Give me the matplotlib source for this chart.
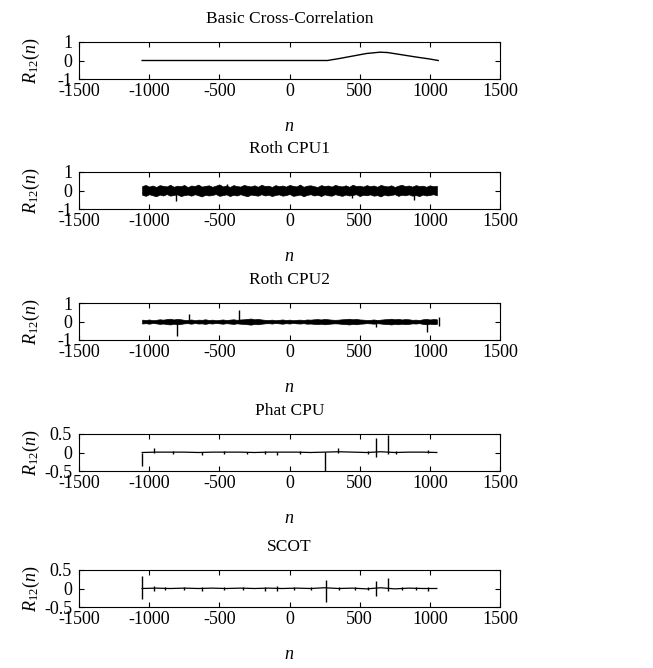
import matplotlib
matplotlib.use("Agg")
import matplotlib.pyplot as plt
import numpy as np

plt.rcParams['font.family'] = ['Liberation Serif', 'DejaVu Serif']
plt.rcParams['mathtext.fontset'] = 'custom'
plt.rcParams['mathtext.rm'] = 'Liberation Serif'
plt.rcParams['mathtext.it'] = 'Liberation Serif:italic'
plt.rcParams['axes.unicode_minus'] = False

titles = ['Basic Cross-Correlation', 'Roth CPU1', 'Roth CPU2', 'Phat CPU', 'SCOT']

# basic cross-correlation (smooth curve)
basic_n = [-1050, 270, 350, 450, 550, 645, 700, 800, 900, 1000, 1060]
basic_r = [0, 0, 0.1, 0.24, 0.38, 0.45, 0.43, 0.31, 0.19, 0.08, 0.0]

# noise envelopes, read every 25 samples from -1050 to 1050
cpu1_hi = [0.24, 0.3, 0.21, 0.27, 0.19, 0.29, 0.25, 0.22, 0.31, 0.2,
           0.26, 0.23, 0.3, 0.18, 0.27, 0.24, 0.32, 0.21, 0.25, 0.28,
           0.2, 0.26, 0.33, 0.22, 0.27, 0.19, 0.29, 0.24, 0.21, 0.3,
           0.25, 0.22, 0.28, 0.2, 0.31, 0.24, 0.26, 0.19, 0.29, 0.23,
           0.27, 0.21, 0.3, 0.25, 0.22, 0.32, 0.2, 0.26, 0.28, 0.23,
           0.19, 0.29, 0.24, 0.27, 0.21, 0.3, 0.25, 0.22, 0.28, 0.2,
           0.31, 0.24, 0.26, 0.21, 0.29, 0.23, 0.27, 0.2, 0.3, 0.25,
           0.22, 0.28, 0.19, 0.26, 0.31, 0.23, 0.27, 0.21, 0.29, 0.24,
           0.26, 0.2, 0.28, 0.23, 0.25]
cpu1_lo = [-0.23, -0.29, -0.2, -0.26, -0.31, -0.22, -0.27, -0.19, -0.28, -0.24,
           -0.21, -0.3, -0.25, -0.22, -0.28, -0.2, -0.26, -0.32, -0.23, -0.27,
           -0.24, -0.19, -0.29, -0.25, -0.21, -0.3, -0.23, -0.27, -0.2, -0.26,
           -0.31, -0.22, -0.25, -0.28, -0.2, -0.27, -0.23, -0.3, -0.24, -0.21,
           -0.28, -0.25, -0.19, -0.29, -0.26, -0.22, -0.31, -0.24, -0.2, -0.27,
           -0.23, -0.3, -0.21, -0.26, -0.28, -0.2, -0.25, -0.29, -0.22, -0.27,
           -0.24, -0.2, -0.3, -0.23, -0.26, -0.21, -0.28, -0.25, -0.32, -0.22,
           -0.27, -0.24, -0.2, -0.29, -0.23, -0.26, -0.21, -0.28, -0.25, -0.3,
           -0.22, -0.27, -0.24, -0.2, -0.26]
cpu1_spk_n = [-810, -447, 444, 884]
cpu1_spk_lo = [-0.58, -0.1, -0.4, -0.5]
cpu1_spk_hi = [0.1, 0.33, 0.1, 0.1]

cpu2_hi = [0.1, 0.08, 0.11, 0.07, 0.09, 0.12, 0.1, 0.13, 0.15, 0.11,
           0.14, 0.12, 0.09, 0.08, 0.11, 0.07, 0.1, 0.09, 0.12, 0.08,
           0.1, 0.07, 0.09, 0.11, 0.08, 0.1, 0.12, 0.09, 0.11, 0.12,
           0.14, 0.16, 0.12, 0.14, 0.11, 0.09, 0.08, 0.1, 0.07, 0.09,
           0.11, 0.08, 0.1, 0.07, 0.09, 0.1, 0.08, 0.11, 0.1, 0.12,
           0.13, 0.11, 0.14, 0.12, 0.1, 0.09, 0.1, 0.12, 0.13, 0.15,
           0.12, 0.14, 0.11, 0.1, 0.08, 0.09, 0.11, 0.08, 0.1, 0.12,
           0.13, 0.15, 0.12, 0.14, 0.11, 0.13, 0.12, 0.09, 0.1, 0.08,
           0.12, 0.14, 0.11, 0.13, 0.12]
cpu2_lo = [-0.11, -0.09, -0.12, -0.08, -0.1, -0.13, -0.11, -0.14, -0.16, -0.12,
           -0.15, -0.13, -0.1, -0.09, -0.12, -0.08, -0.11, -0.1, -0.13, -0.09,
           -0.11, -0.08, -0.1, -0.12, -0.09, -0.11, -0.13, -0.1, -0.12, -0.13,
           -0.15, -0.17, -0.13, -0.15, -0.12, -0.1, -0.09, -0.11, -0.08, -0.1,
           -0.12, -0.09, -0.11, -0.08, -0.1, -0.11, -0.09, -0.12, -0.11, -0.13,
           -0.14, -0.12, -0.15, -0.13, -0.11, -0.1, -0.11, -0.13, -0.14, -0.16,
           -0.13, -0.15, -0.12, -0.11, -0.09, -0.1, -0.12, -0.09, -0.11, -0.13,
           -0.14, -0.16, -0.13, -0.15, -0.12, -0.14, -0.13, -0.1, -0.11, -0.09,
           -0.13, -0.15, -0.12, -0.14, -0.13]
cpu2_spk_n = [-803, -715, -359, 615, 978, 1062]
cpu2_spk_lo = [-0.76, -0.1, -0.1, -0.3, -0.56, -0.25]
cpu2_spk_hi = [0.1, 0.4, 0.6, 0.1, 0.1, 0.25]

# nearly flat baselines, every 100 samples
base_n = [-1050, -950, -850, -750, -650, -550, -450, -350, -250, -150, -50,
          50, 150, 250, 350, 450, 550, 650, 750, 850, 950, 1050]
phat_base = [0.0, 0.01, 0.01, 0.01, 0.0, 0.01, 0.01, 0.01, 0.0, 0.01, 0.01,
             0.01, 0.0, 0.01, 0.02, 0.01, 0.0, 0.02, 0.0, 0.01, 0.01, 0.0]
phat_spk_n = [-1050, -967, -827, -625, -470, -300, -173, -90, 75, 254, 349,
              560, 618, 700, 760, 986]
phat_spk_lo = [-0.36, 0, -0.05, -0.06, -0.05, -0.04, -0.05, -0.07, -0.04, -0.55,
               -0.02, -0.04, -0.11, -0.03, -0.05, -0.02]
phat_spk_hi = [0, 0.13, 0.03, 0.02, 0.03, 0.02, 0.03, 0.02, 0.03, 0.02,
               0.13, 0.05, 0.39, 0.47, 0.04, 0.06]

scot_base = [0.0, 0.01, 0.0, 0.01, 0.0, 0.01, 0.0, 0.01, 0.0, 0.01, 0.0,
             0.01, 0.0, 0.02, 0.0, 0.01, -0.01, 0.02, -0.01, 0.01, 0.0, 0.0]
scot_spk_n = [-1050, -967, -890, -750, -625, -470, -330, -173, -90, 30, 150,
              261, 350, 470, 560, 618, 705, 800, 900, 986]
scot_spk_lo = [-0.28, -0.06, -0.04, -0.04, -0.07, -0.05, -0.04, -0.07, -0.06, -0.04,
               -0.04, -0.37, -0.04, -0.03, -0.05, -0.19, -0.08, -0.04, -0.03, -0.06]
scot_spk_hi = [0.33, 0.06, 0.04, 0.04, 0.05, 0.05, 0.04, 0.05, 0.06, 0.04,
               0.04, 0.22, 0.05, 0.04, 0.05, 0.2, 0.28, 0.04, 0.04, 0.05]

fig = plt.figure(figsize=(6.53, 6.68), dpi=100)
W, H = 653.0, 668.0
left, right = 79, 500
bottoms = [79, 209, 340, 471, 607]
height = 37

axes = []
for k in range(5):
    ax = fig.add_axes([left / W, 1 - bottoms[k] / H, (right - left) / W, height / H])
    axes.append(ax)

axes[0].plot(basic_n, basic_r, 'k', lw=1)

n1 = np.linspace(-1050, 1050, len(cpu1_hi))
axes[1].fill_between(n1, cpu1_lo, cpu1_hi, color='k', lw=0.5)
axes[1].vlines(cpu1_spk_n, cpu1_spk_lo, cpu1_spk_hi, color='k', lw=1)

n2 = np.linspace(-1050, 1050, len(cpu2_hi))
axes[2].fill_between(n2, cpu2_lo, cpu2_hi, color='k', lw=0.5)
axes[2].vlines(cpu2_spk_n, cpu2_spk_lo, cpu2_spk_hi, color='k', lw=1)

axes[3].plot(base_n, phat_base, 'k', lw=0.9)
axes[3].vlines(phat_spk_n, phat_spk_lo, phat_spk_hi, color='k', lw=1)

axes[4].plot(base_n, scot_base, 'k', lw=0.9)
axes[4].vlines(scot_spk_n, scot_spk_lo, scot_spk_hi, color='k', lw=1)

for k, ax in enumerate(axes):
    ax.set_xlim(-1500, 1500)
    ax.set_xticks([-1500, -1000, -500, 0, 500, 1000, 1500])
    if k < 3:
        ax.set_ylim(-1, 1)
        ax.set_yticks([-1, 0, 1])
        ax.set_yticklabels(['-1', '0', '1'])
    else:
        ax.set_ylim(-0.5, 0.5)
        ax.set_yticks([-0.5, 0, 0.5])
        ax.set_yticklabels(['-0.5', '0', '0.5'])
    ax.tick_params(direction='in', top=True, right=True, length=3.5, labelsize=13)
    ax.tick_params(axis='x', pad=3)
    ax.tick_params(axis='y', pad=5)
    ax.set_title(titles[k], fontsize=12.5, pad=14)
    ax.set_xlabel('$n$', fontsize=13, labelpad=13)
    ax.set_ylabel(r'$R_{\mathit{12}}\mathit{(n)}$', fontsize=13)
    ax.yaxis.set_label_coords(-0.088, 0.5)
    for s in ax.spines.values():
        s.set_linewidth(0.8)

fig.savefig('out.png', dpi=100)
